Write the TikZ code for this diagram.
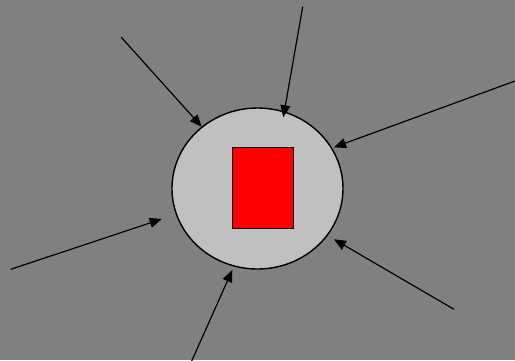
\documentclass[tikz,border=0pt]{standalone}
\usetikzlibrary{arrows.meta,shapes.geometric}
\definecolor{bg}{HTML}{808080}
\definecolor{disk}{HTML}{C0C0C0}
\begin{document}
\begin{tikzpicture}[x=1pt,y=-1pt,
  pointer/.style={line width=1.2pt,-{Triangle[length=12pt,width=10pt]}},
  diskbox/.style={ellipse,draw=black,line width=1.4pt,fill=disk,minimum width=171pt,minimum height=161pt,inner sep=0pt},
  core/.style={rectangle,draw=black,line width=1.2pt,fill=red,minimum width=61pt,minimum height=81pt,inner sep=0pt}]
\fill[bg] (0,0) rectangle (515,360);
\useasboundingbox (0,0) rectangle (515,360);
\node[diskbox] (d) at (257.5,188.5) {};
\node[core] (r) at (262.8,188.3) {};
\coordinate (s1) at (121,37);   \coordinate (t1) at (201.7,126.7);
\coordinate (s2) at (302.7,6.7); \coordinate (t2) at (283.3,117.3);
\coordinate (s3) at (515,81);   \coordinate (t3) at (334,147.3);
\coordinate (s4) at (10.7,269.3); \coordinate (t4) at (161.7,219);
\coordinate (s5) at (191.7,361); \coordinate (t5) at (232.3,270);
\coordinate (s6) at (454,309.3); \coordinate (t6) at (334,239.3);
\foreach \i in {1,...,6} \draw[pointer] (s\i) -- (t\i);
\end{tikzpicture}
\end{document}
